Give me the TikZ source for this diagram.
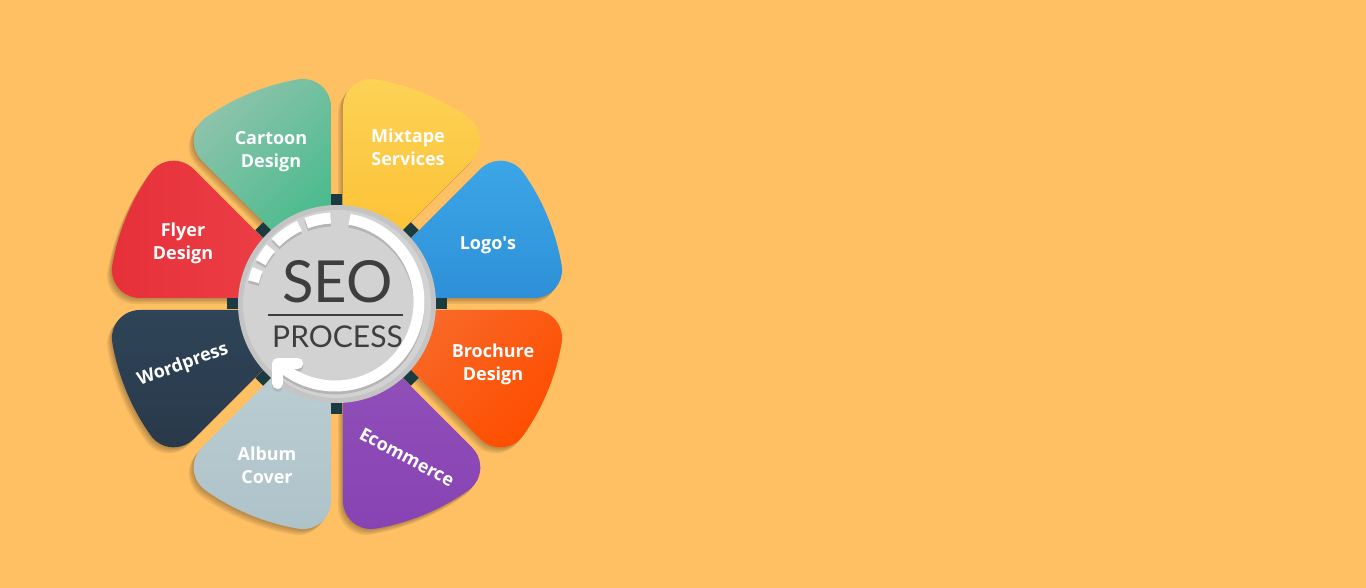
\documentclass[tikz,border=0pt]{standalone}
\usepackage{fontspec}
\setmainfont{Open Sans}
\newfontfamily\seofont{Lato}
\usepackage{tikz}
\usetikzlibrary{calc}
\definecolor{bgorange}{RGB}{255,192,100}
\definecolor{logoA}{RGB}{60,166,230}
\definecolor{logoB}{RGB}{46,144,216}
\definecolor{mixA}{RGB}{253,210,86}
\definecolor{mixB}{RGB}{251,189,43}
\definecolor{cartA}{RGB}{141,195,172}
\definecolor{cartB}{RGB}{62,186,135}
\definecolor{flyA}{RGB}{238,67,72}
\definecolor{flyB}{RGB}{230,48,58}
\definecolor{wordA}{RGB}{47,68,88}
\definecolor{wordB}{RGB}{41,57,74}
\definecolor{albumA}{RGB}{190,209,214}
\definecolor{albumB}{RGB}{174,194,201}
\definecolor{ecomA}{RGB}{147,83,187}
\definecolor{ecomB}{RGB}{135,67,179}
\definecolor{brochA}{RGB}{247,109,46}
\definecolor{brochB}{RGB}{254,78,0}
\definecolor{gapteal}{RGB}{28,59,64}
\definecolor{discrim}{RGB}{196,196,196}
\definecolor{discfill}{RGB}{210,210,210}
\definecolor{ringshade}{RGB}{180,180,180}
\definecolor{seogray}{RGB}{62,62,62}
% petal outline: wedge from the hub out to \Rout, sides kept \pgap off the rays, outer corners filleted
\newcommand{\petalpath}[1]{(#1+22.5:\papex) -- ([shift={(#1+90:\pgap)}]#1:\pft)
  arc[start angle=#1-90, end angle=#1+\pfa, radius=\rfil pt]
  arc[start angle=#1+\pfa, end angle=#1+45-\pfa, radius=\Rout pt]
  arc[start angle=#1+45-\pfa, end angle=#1+135, radius=\rfil pt] -- cycle}

\begin{document}
\begin{tikzpicture}[x=1pt,y=1pt,
  petalshadow/.style={black,opacity=0.07},
  gapsq/.style={fill=gapteal},
  ringarc/.style={line width=11pt},
  petallabel/.style={text=white,font=\bfseries\fontsize{18}{23}\selectfont,align=center,inner sep=0pt}]
  % ---- canvas ----
  \fill[bgorange] (-337,-284) rectangle (1029,304);
  \useasboundingbox (-337,-284) rectangle (1029,304);
  \coordinate (hub) at (0,0);

  % ---- geometry ----
  \def\Rout{228}
  \def\rfil{28}
  \def\pgap{6}
  \pgfmathsetmacro{\pfa}{asin((\pgap+\rfil)/(\Rout-\rfil))}
  \pgfmathsetmacro{\pft}{(\Rout-\rfil)*cos(\pfa)}
  \pgfmathsetmacro{\papex}{\pgap/sin(22.5)}

  % ---- soft shadows under the petals ----
  \foreach \a in {0,45,...,315}{
    \foreach \s in {1,...,4}{
      \fill[petalshadow,shift={(-1.2*\s,-1.5*\s)}] \petalpath{\a};
    }
  }

  % ---- petals ----
  \foreach \a/\ca/\cb/\sa in {0/logoA/logoB/0, 45/mixA/mixB/0, 90/cartA/cartB/45,
                              135/flyA/flyB/-90, 180/wordA/wordB/0, 225/albumA/albumB/0,
                              270/ecomA/ecomB/0, 315/brochA/brochB/45}{
    \shade[top color=\ca,bottom color=\cb,shading angle=\sa] \petalpath{\a};
  }

  % ---- dark studs in the gaps ----
  \foreach \a in {0,45,...,315}{
    \fill[gapsq,rotate=\a] (97,-5.5) rectangle (110,5.5);
  }

  % ---- hub disc ----
  \fill[discrim] (hub) circle[radius=99pt];
  \fill[discfill] (hub) circle[radius=94pt];

  % ---- progress ring (shade first, then white) ----
  \foreach \dy/\col in {-0.8/ringshade, 2/white}{
    \begin{scope}[shift={(-2,\dy)}]
      \draw[ringarc,draw=\col] (80:84) arc[start angle=80, end angle=-133, radius=84pt];
      \draw[ringarc,draw=\col,line cap=round,line join=round]
        ([shift={(20,0)}]-133:84) -- (-133:84) -- ([shift={(0,-20)}]-133:84);
      \foreach \s/\e in {93/110, 115/135, 140/152, 157/166}{
        \draw[ringarc,draw=\col] (\s:84) arc[start angle=\s, end angle=\e, radius=84pt];
      }
    \end{scope}
  }

  % ---- hub title ----
  \node[text=seogray,font=\seofont\fontsize{58}{62}\selectfont,inner sep=0pt] (seo) at (0.5,22.5) {SEO};
  \draw[seogray,line width=2.4pt] (-69,-11) -- (66,-11);
  \node[text=seogray,font=\seofont\fontsize{30}{33}\selectfont,inner sep=0pt] (process) at (0.5,-33) {PROCESS};

  % ---- petal labels ----
  \foreach \name/\pos/\rot/\txt in {logos/{151,59}/0/{Logo\textquotesingle s},
                                     mixtape/{71,157}/0/{Mixtape\\Services},
                                     cartoon/{-66,152}/0/{Cartoon\\Design},
                                     flyer/{-154,61}/0/{Flyer\\Design},
                                     wordpress/{-154,-61}/20/{Wordpress},
                                     album/{-70,-161}/0/{Album\\Cover},
                                     ecommerce/{70,-153}/-28/{Ecommerce},
                                     brochure/{156,-60}/0/{Brochure\\Design}}{
    \node[petallabel,rotate=\rot] (\name) at (\pos) {\txt};
  }
\end{tikzpicture}
\end{document}
